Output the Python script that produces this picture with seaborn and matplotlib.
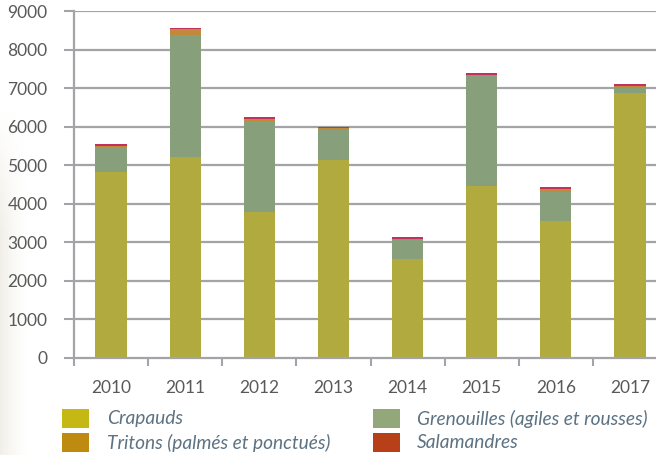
import matplotlib
matplotlib.use("Agg")
import matplotlib.pyplot as plt
import seaborn as sns
import pandas as pd
import numpy as np
from matplotlib.patches import Rectangle

years = ["2010", "2011", "2012", "2013", "2014", "2015", "2016", "2017"]
crapauds = [4820, 5210, 3790, 5140, 2570, 4460, 3560, 6880]
grenouilles = [660, 3160, 2360, 775, 490, 2860, 750, 115]
tritons = [30, 160, 50, 45, 30, 30, 70, 60]
salamandres = [40, 40, 45, 40, 40, 40, 45, 50]

labels = ["Crapauds", "Grenouilles (agiles et rousses)",
          "Tritons (palmés et ponctués)", "Salamandres"]
bar_colors = ["#b1ab3f", "#87a07b", "#c08a3a", "#c4305c"]
legend_colors = ["#c5b815", "#93a87a", "#bf8a10", "#b84018"]

sns.set_theme(style="white")
plt.rcParams['font.family'] = ['Lato', 'DejaVu Sans']

df = pd.DataFrame({"year": years, "c": crapauds, "g": grenouilles,
                   "t": tritons, "s": salamandres})
df["l1"] = df["c"]
df["l2"] = df["l1"] + df["g"]
df["l3"] = df["l2"] + df["t"]
df["l4"] = df["l3"] + df["s"]

W, H = 656, 455
fig = plt.figure(figsize=(W/100, H/100), dpi=100)

# faint background shading at the left edge
bg = fig.add_axes([0, 0, 1, 1], zorder=-10)
xx = np.linspace(0, 1, W)[None, :]
yy = np.linspace(0, 1, H)[:, None]
alpha = np.clip(1 - xx * W / 28, 0, 1) ** 1.5 * np.clip((yy * H - 110) / 120, 0, 1) * 0.35
img = np.zeros((H, W, 4))
img[..., 0] = 0.84
img[..., 1] = 0.82
img[..., 2] = 0.74
img[..., 3] = alpha
bg.imshow(img, extent=[0, 1, 0, 1], origin="upper", aspect="auto")
bg.set_axis_off()

ax = fig.add_axes([74/W, (H-358)/H, 593/W, (358-11)/H])
ax.patch.set_alpha(0)

grid_c = "#a3a3a8"
for y in range(1000, 9001, 1000):
    ax.axhline(y, color=grid_c, lw=1.6, zorder=0)

for col, color in zip(["l4", "l3", "l2", "l1"], bar_colors[::-1]):
    sns.barplot(data=df, x="year", y=col, color=color, width=0.42,
                saturation=1, ax=ax, zorder=2, edgecolor="none")

ax.set_ylim(0, 9000)
ax.set_xlim(-0.5, 7.5)
ax.set_yticks(range(0, 9001, 1000))
ax.set_xlabel("")
ax.set_ylabel("")
ax.set_xticks(np.arange(-0.5, 7.5, 1.0), minor=False)
ax.set_xticklabels([])
ax.set_xticks(range(8), minor=True)
ax.set_xticklabels(years, minor=True)
ax.tick_params(axis="x", which="major", direction="out", length=6, width=1.5,
               color=grid_c, bottom=True)
ax.tick_params(axis="x", which="minor", length=0, pad=16, labelsize=12.5,
               labelcolor="#595959")
ax.tick_params(axis="y", direction="out", length=7, width=1.5, color=grid_c,
               left=True, labelsize=12.5, labelcolor="#595959", pad=12)

for side in ["top", "right"]:
    ax.spines[side].set_visible(False)
for side in ["left", "bottom"]:
    ax.spines[side].set_color(grid_c)
    ax.spines[side].set_linewidth(1.6)

# legend drawn in figure pixel coordinates (square x, square top y, text x)
leg_pos = [(62, 409, 107), (373, 409, 417), (62, 433, 107), (373, 433, 417)]
renderer = fig.canvas.get_renderer()
txts = []
for i, (sx, sy, tx) in enumerate(leg_pos):
    fig.patches.append(Rectangle((sx/W, 1 - (sy+19)/H), 27/W, 19/H,
                                 transform=fig.transFigure, facecolor=legend_colors[i],
                                 edgecolor="none"))
    txts.append(fig.text(tx/W, 1 - (sy+9.5)/H, labels[i], ha="left", va="center",
                         style="italic", fontsize=12.5, color="#5d7282"))
# fit legend text width to reference: "Grenouilles..." spans ~233 px
wg = txts[1].get_window_extent(renderer).width
scale = 233 / wg
for t in txts:
    t.set_fontsize(12.5 * scale)

fig.savefig("out.png", dpi=100)
